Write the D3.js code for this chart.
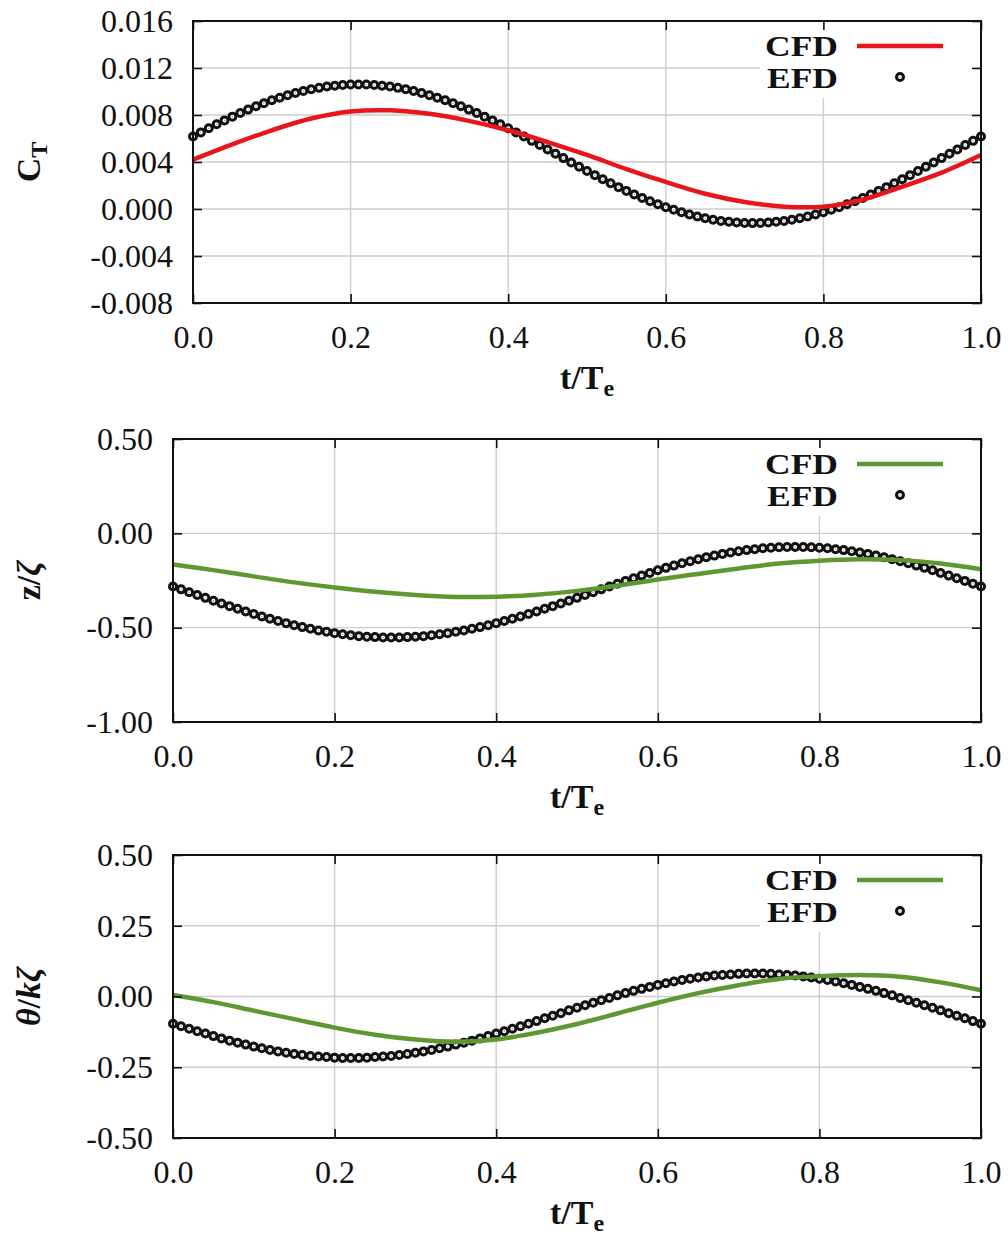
<!DOCTYPE html>
<html>
<head>
<meta charset="utf-8">
<script src="https://cdn.jsdelivr.net/npm/d3@7"></script>
<style>
  body { margin: 0; background: #fff; }
  text { font-family: "Liberation Serif", "Times New Roman", serif; fill: #111; }
</style>
</head>
<body>
<div id="chart"></div>
<script>
// sample times
const tEfd = d3.range(101).map(i => i / 100)
const tCfd = [0, 0.05, 0.1, 0.15, 0.2, 0.25, 0.3, 0.35, 0.4, 0.45, 0.5,
  0.55, 0.6, 0.65, 0.7, 0.75, 0.8, 0.85, 0.9, 0.95, 1.0]

// thrust coefficient
const ctEfd = [0.00617, 0.00652, 0.00687, 0.00721, 0.00754, 0.00786, 0.00817, 0.00846, 0.00874, 0.00900,
  0.00925, 0.00947, 0.00968, 0.00987, 0.01004, 0.01019, 0.01031, 0.01042, 0.01049, 0.01055,
  0.01059, 0.01060, 0.01059, 0.01055, 0.01049, 0.01042, 0.01031, 0.01019, 0.01004, 0.00987,
  0.00968, 0.00947, 0.00925, 0.00900, 0.00874, 0.00846, 0.00817, 0.00786, 0.00754, 0.00721,
  0.00687, 0.00652, 0.00617, 0.00580, 0.00544, 0.00507, 0.00470, 0.00433, 0.00396, 0.00360,
  0.00323, 0.00288, 0.00253, 0.00219, 0.00186, 0.00154, 0.00123, 0.00094, 0.00066, 0.00040,
  0.00015, -0.00007, -0.00028, -0.00047, -0.00064, -0.00079, -0.00091, -0.00102, -0.00109, -0.00115,
  -0.00119, -0.00120, -0.00119, -0.00115, -0.00109, -0.00102, -0.00091, -0.00079, -0.00064, -0.00047,
  -0.00028, -0.00007, 0.00015, 0.00040, 0.00066, 0.00094, 0.00123, 0.00154, 0.00186, 0.00219,
  0.00253, 0.00288, 0.00323, 0.00360, 0.00396, 0.00433, 0.00470, 0.00507, 0.00544, 0.00580,
  0.00617]
const ctCfd = [0.0042, 0.0055, 0.0067, 0.0077, 0.0083, 0.0084, 0.0081, 0.0075, 0.0067, 0.0057, 0.0046,
  0.0034, 0.0023, 0.0013, 0.0006, 0.0002, 0.0002, 0.0008, 0.0019, 0.0031, 0.0046]

// heave
const zEfd = [-0.282, -0.297, -0.312, -0.327, -0.342, -0.357, -0.372, -0.386, -0.400, -0.414,
  -0.428, -0.441, -0.453, -0.465, -0.476, -0.487, -0.497, -0.506, -0.515, -0.522,
  -0.529, -0.535, -0.540, -0.545, -0.548, -0.550, -0.552, -0.552, -0.552, -0.550,
  -0.548, -0.545, -0.540, -0.535, -0.529, -0.522, -0.515, -0.506, -0.497, -0.487,
  -0.476, -0.465, -0.453, -0.441, -0.428, -0.414, -0.400, -0.386, -0.372, -0.357,
  -0.342, -0.327, -0.312, -0.297, -0.282, -0.267, -0.252, -0.238, -0.224, -0.210,
  -0.196, -0.183, -0.171, -0.159, -0.148, -0.137, -0.127, -0.118, -0.109, -0.102,
  -0.095, -0.089, -0.084, -0.079, -0.076, -0.074, -0.072, -0.072, -0.072, -0.074,
  -0.076, -0.079, -0.084, -0.089, -0.095, -0.102, -0.109, -0.118, -0.127, -0.137,
  -0.148, -0.159, -0.171, -0.183, -0.196, -0.210, -0.224, -0.238, -0.252, -0.267,
  -0.282]
const zCfd = [-0.165, -0.195, -0.228, -0.260, -0.287, -0.310, -0.327, -0.337, -0.336, -0.325, -0.305,
  -0.278, -0.245, -0.215, -0.186, -0.160, -0.145, -0.138, -0.142, -0.160, -0.190]

// pitch
const thetaEfd = [-0.096, -0.105, -0.114, -0.123, -0.131, -0.140, -0.148, -0.156, -0.163, -0.170,
  -0.177, -0.183, -0.189, -0.194, -0.199, -0.203, -0.207, -0.210, -0.212, -0.214,
  -0.216, -0.217, -0.217, -0.217, -0.216, -0.214, -0.212, -0.210, -0.207, -0.203,
  -0.199, -0.194, -0.189, -0.183, -0.177, -0.170, -0.163, -0.156, -0.148, -0.140,
  -0.131, -0.123, -0.114, -0.105, -0.096, -0.087, -0.077, -0.068, -0.059, -0.049,
  -0.040, -0.031, -0.022, -0.013, -0.005, 0.004, 0.012, 0.020, 0.027, 0.034,
  0.041, 0.047, 0.053, 0.058, 0.063, 0.067, 0.071, 0.074, 0.076, 0.078,
  0.080, 0.081, 0.081, 0.081, 0.080, 0.078, 0.076, 0.074, 0.071, 0.067,
  0.063, 0.058, 0.053, 0.047, 0.041, 0.034, 0.027, 0.020, 0.012, 0.004,
  -0.005, -0.013, -0.022, -0.031, -0.040, -0.049, -0.059, -0.068, -0.077, -0.087,
  -0.096]
const thetaCfd = [0.005, -0.020, -0.050, -0.080, -0.110, -0.135, -0.152, -0.160, -0.152, -0.128, -0.097,
  -0.060, -0.022, 0.012, 0.040, 0.062, 0.072, 0.076, 0.070, 0.050, 0.022]

// ticks
const xTicks = [0, 0.2, 0.4, 0.6, 0.8, 1.0]
const ctTicks = [-0.008, -0.004, 0, 0.004, 0.008, 0.012, 0.016]
const zTicks = [-1, -0.5, 0, 0.5]
const thetaTicks = [-0.5, -0.25, 0, 0.25, 0.5]

const width = 1008
const height = 1239

const svg = d3.select('#chart')
  .append('svg')
  .attr('width', width)
  .attr('height', height)

svg.append('rect').attr('width', width).attr('height', height).attr('fill', '#fff')

const panels = [
  { top: 21, bottom: 303, left: 193, ticks: ctTicks, digits: 3, efd: ctEfd, cfd: ctCfd,
    color: '#e8161b', ylabel: 'ct' },
  { top: 439, bottom: 722, left: 173, ticks: zTicks, digits: 2, efd: zEfd, cfd: zCfd,
    color: '#5e9833', ylabel: 'z' },
  { top: 855, bottom: 1138, left: 173, ticks: thetaTicks, digits: 2, efd: thetaEfd, cfd: thetaCfd,
    color: '#5e9833', ylabel: 'theta' }
]
const right = 981

function marker(g, cx, cy) {
  g.append('circle')
    .attr('cx', cx).attr('cy', cy).attr('r', 3.5)
    .attr('fill', '#fff').attr('stroke', '#111').attr('stroke-width', 3)
  g.append('circle')
    .attr('cx', cx).attr('cy', cy).attr('r', 0.7)
    .attr('fill', '#888')
}

panels.forEach(p => {
  let x = d3.scaleLinear().domain([0, 1]).range([p.left, right])
  let y = d3.scaleLinear().domain(d3.extent(p.ticks)).range([p.bottom, p.top])
  let h = p.bottom - p.top
  let w = right - p.left

  // grid
  let grid = svg.append('g').attr('class', 'grid')
  grid.selectAll('.vg')
    .data(xTicks.slice(1, -1))
    .enter().append('line')
    .attr('x1', d => x(d)).attr('x2', d => x(d))
    .attr('y1', p.top).attr('y2', p.bottom)
  grid.selectAll('.hg')
    .data(p.ticks.slice(1, -1))
    .enter().append('line')
    .attr('x1', p.left).attr('x2', right)
    .attr('y1', d => y(d)).attr('y2', d => y(d))
  grid.selectAll('line').attr('stroke', '#cdcdcd').attr('stroke-width', 1.4)

  // legend background hides the grid
  svg.append('rect')
    .attr('x', 760).attr('y', p.top + 1)
    .attr('width', 215).attr('height', 76)
    .attr('fill', '#fff')

  // EFD markers
  let pts = svg.append('g')
  p.efd.forEach((v, i) => marker(pts, x(tEfd[i]), y(v)))

  // CFD line
  let line = d3.line()
    .x((d, i) => x(tCfd[i]))
    .y(d => y(d))
    .curve(d3.curveCatmullRom.alpha(0.5))
  svg.append('path')
    .datum(p.cfd)
    .attr('d', line)
    .attr('fill', 'none')
    .attr('stroke', p.color)
    .attr('stroke-width', 4.5)

  // frame
  svg.append('rect')
    .attr('x', p.left).attr('y', p.top)
    .attr('width', w).attr('height', h)
    .attr('fill', 'none').attr('stroke', '#111').attr('stroke-width', 2)

  let fmt = d => d.toFixed(p.digits)

  let yAxis = svg.append('g')
    .attr('transform', 'translate(' + p.left + ',0)')
    .call(d3.axisLeft(y).tickValues(p.ticks).tickSize(-9).tickPadding(20).tickFormat(fmt))
  let yAxisR = svg.append('g')
    .attr('transform', 'translate(' + right + ',0)')
    .call(d3.axisRight(y).tickValues(p.ticks).tickSize(-9).tickFormat(''))
  let xAxis = svg.append('g')
    .attr('transform', 'translate(0,' + p.bottom + ')')
    .call(d3.axisBottom(x).tickValues(xTicks).tickSize(-9).tickPadding(22).tickFormat(d => d.toFixed(1)))
  let xAxisT = svg.append('g')
    .attr('transform', 'translate(0,' + p.top + ')')
    .call(d3.axisTop(x).tickValues(xTicks).tickSize(-9).tickFormat(''))

  ;[yAxis, yAxisR, xAxis, xAxisT].forEach(a => {
    a.select('.domain').remove()
    a.selectAll('line').attr('stroke', '#111').attr('stroke-width', 1.6)
    a.selectAll('text')
      .style('font-family', '"Liberation Serif", "Times New Roman", serif')
      .style('font-size', '32px')
      .attr('fill', '#111')
  })

  // legend
  let lg = svg.append('g').style('font-weight', 'bold').style('font-size', '30px')
  lg.append('text').attr('x', 838).attr('y', p.top + 24).attr('dy', '0.35em')
    .attr('text-anchor', 'end')
    .attr('textLength', 73).attr('lengthAdjust', 'spacingAndGlyphs').text('CFD')
  lg.append('text').attr('x', 838).attr('y', p.top + 56).attr('dy', '0.35em')
    .attr('text-anchor', 'end')
    .attr('textLength', 71).attr('lengthAdjust', 'spacingAndGlyphs').text('EFD')
  lg.append('line')
    .attr('x1', 857).attr('x2', 943)
    .attr('y1', p.top + 25).attr('y2', p.top + 25)
    .attr('stroke', p.color).attr('stroke-width', 4.5)
  marker(lg, 900, p.top + 56)

  // x title
  let xt = svg.append('text')
    .attr('x', (p.left + right) / 2).attr('y', p.bottom + 86)
    .attr('text-anchor', 'middle')
    .style('font-weight', 'bold').style('font-size', '34px')
  xt.append('tspan').text('t/T')
  xt.append('tspan').attr('dy', 7).style('font-size', '24px').text('e')

  // y title
  let yt = svg.append('text')
    .attr('transform', 'translate(40,' + (p.top + p.bottom) / 2 + ') rotate(-90)')
    .attr('text-anchor', 'middle')
    .style('font-weight', 'bold').style('font-size', '34px')
  if (p.ylabel === 'ct') {
    yt.append('tspan').text('C')
    yt.append('tspan').attr('dy', 7).style('font-size', '24px').text('T')
  } else if (p.ylabel === 'z') {
    yt.append('tspan').text('z/')
    yt.append('tspan').style('font-style', 'italic').text('ζ')
  } else {
    yt.append('tspan').style('font-style', 'italic').text('θ')
    yt.append('tspan').text('/')
    yt.append('tspan').style('font-style', 'italic').text('kζ')
  }
})
</script>
</body>
</html>
